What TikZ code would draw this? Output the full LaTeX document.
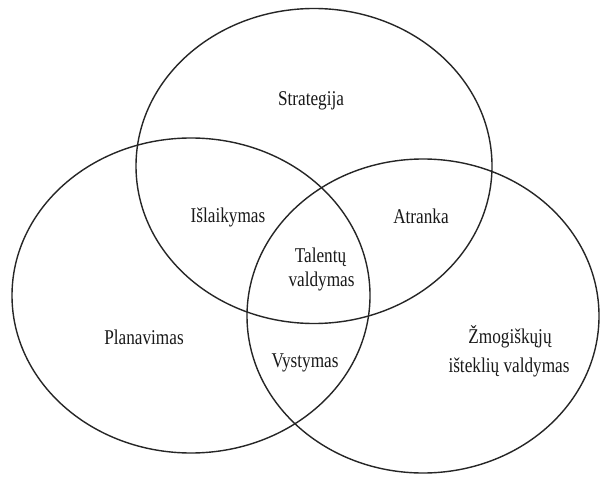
\documentclass[tikz,border=0pt]{standalone}
\usepackage{fontspec}
\setmainfont{Liberation Serif}
\usepackage{graphicx}
\newcommand{\sqz}[1]{\scalebox{0.82}[1]{#1}}
\begin{document}
\begin{tikzpicture}[x=1pt,y=1pt,
  ring/.style={draw=black!85,line width=1.4pt},
  lbl/.style={anchor=base,inner sep=0pt,text=black!90,font=\fontsize{21}{24}\selectfont}]
\useasboundingbox (0,0) rectangle (601,477);
\fill[white] (0,0) rectangle (601,477);
% circles
\draw[ring] (314,311) ellipse [x radius=178, y radius=157.5];
\draw[ring] (191,181.5) ellipse [x radius=179, y radius=157.5];
\draw[ring] (423,161) ellipse [x radius=176, y radius=157];
% labels
\node[lbl] (strat) at (311,371) {\sqz{Strategija}};
\node[lbl] (isl) at (228,255) {\sqz{Išlaikymas}};
\node[lbl] (atr) at (421,254) {\sqz{Atranka}};
\node[lbl] (tal1) at (320.5,214.3) {\sqz{Talentų}};
\node[lbl] (tal2) at (321.5,190.3) {\sqz{valdymas}};
\node[lbl] (plan) at (144,133) {\sqz{Planavimas}};
\node[lbl] (vyst) at (305,110) {\sqz{Vystymas}};
\node[lbl] (zm1) at (510,134) {\sqz{Žmogiškųjų}};
\node[lbl] (zm2) at (509,105) {\sqz{išteklių valdymas}};
\end{tikzpicture}
\end{document}
